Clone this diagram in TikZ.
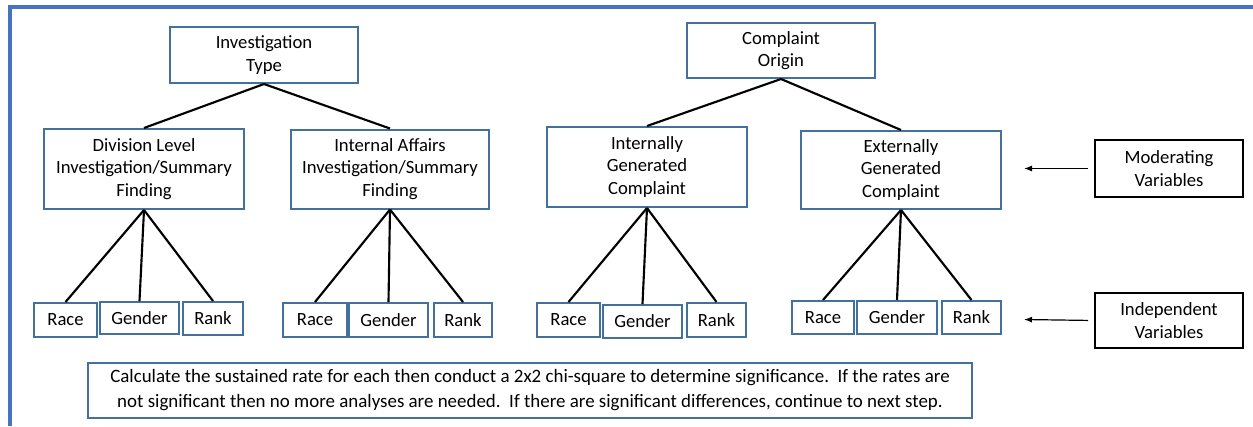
\documentclass[tikz,border=0pt]{standalone}
\usepackage{fontspec}
\setmainfont{Carlito}
\usetikzlibrary{arrows.meta}
\definecolor{frameblue}{HTML}{4472C4}
\definecolor{boxblue}{HTML}{41719C}
\tikzset{
  boxsize/.style 2 args={minimum width=#1*0.75pt, minimum height=#2*0.75pt},
  varbox/.style={draw=boxblue, line width=1.5pt, inner sep=0pt, align=center,
    font=\fontsize{14}{17}\selectfont},
  keybox/.style={varbox, draw=black},
  link/.style={line width=1.6pt},
  pointer/.style={line width=0.9pt, -{Latex[length=6pt,width=4.5pt]}}
}
\begin{document}
\begin{tikzpicture}[x=0.75pt, y=-0.75pt]
    \useasboundingbox (0,0) rectangle (1253,426);
    % outer frame
    \draw[frameblue, line width=2.3pt] (1253,7) -- (10,7) -- (10,426);
    % investigation type tree
    \node[varbox, boxsize={188}{56}] (invtype) at (264,55) {Investigation\\Type};
    \node[varbox, boxsize={200}{80}] (division) at (144,169) {Division Level\\Investigation/Summary\\Finding};
    \node[varbox, boxsize={198}{79}] (internal) at (390,169) {Internal Affairs\\Investigation/Summary\\Finding};
    % complaint origin tree
    \node[varbox, boxsize={188}{55}] (origin) at (781,50.5) {Complaint\\Origin};
    \node[varbox, boxsize={200}{80}] (intgen) at (647,167) {Internally\\Generated\\Complaint};
    \node[varbox, boxsize={200}{78}] (extgen) at (901,170) {Externally\\Generated\\Complaint};
    % independent variables
    \node[varbox, boxsize={63}{34}] (raceA) at (65.5,320) {Race};
    \node[varbox, boxsize={79}{32}] (genderA) at (139.5,318) {Gender};
    \node[varbox, boxsize={60}{33}] (rankA) at (213,318.5) {Rank};
    \node[varbox, boxsize={64}{34}] (raceB) at (315,320) {Race};
    \node[varbox, boxsize={79}{34}] (genderB) at (388.5,320) {Gender};
    \node[varbox, boxsize={58}{34}] (rankB) at (463,320) {Rank};
    \node[varbox, boxsize={63}{34}] (raceC) at (568.5,320) {Race};
    \node[varbox, boxsize={79}{33}] (genderC) at (642.5,321.5) {Gender};
    \node[varbox, boxsize={59}{34}] (rankC) at (716.5,320) {Rank};
    \node[varbox, boxsize={62}{33}] (raceD) at (823,317.5) {Race};
    \node[varbox, boxsize={80}{33}] (genderD) at (897,317.5) {Gender};
    \node[varbox, boxsize={59}{33}] (rankD) at (971.5,317.5) {Rank};
    % legend
    \node[keybox, boxsize={148}{57}] (moderating) at (1169,168.5) {Moderating\\Variables};
    \node[keybox, boxsize={148}{55}] (independent) at (1169,320.5) {Independent\\Variables};
    \coordinate (modtip) at (1024,168.5);
    \coordinate (indtip) at (1024,319.5);
    % note
    \node[varbox, boxsize={884}{55}, font=\fontsize{14.2}{18.75}\selectfont] (note) at (530,390.5)
      {Calculate the sustained rate for each then conduct a 2x2 chi-square to determine significance.\ \ If the rates are\\
       not significant then no more analyses are needed.\ \ If there are significant differences, continue to next step.};
    % connectors
    \draw[link] (invtype.south) -- (division.north);
    \draw[link] (invtype.south) -- (internal.north);
    \draw[link] (origin.south) -- (intgen.north);
    \draw[link] (origin.south) -- (extgen.north);
    \foreach \parent/\grp in {division/A, internal/B, intgen/C, extgen/D} {
      \draw[link] (\parent.south) -- (race\grp.north);
      \draw[link] (\parent.south) -- (gender\grp.north);
      \draw[link] (\parent.south) -- (rank\grp.north);
    }
    \draw[pointer, shorten <=4.5pt] (moderating.west) -- (modtip);
    \draw[pointer, shorten <=4.5pt] (independent.west) -- (indtip);
\end{tikzpicture}
\end{document}
